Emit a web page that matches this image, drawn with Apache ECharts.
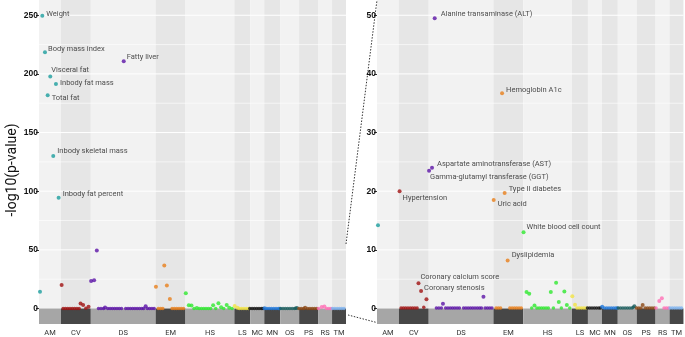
<!DOCTYPE html>
<html>
<head>
<meta charset="utf-8">
<script src="https://cdn.jsdelivr.net/npm/echarts@6/dist/echarts.min.js"></script>
<style>
html, body { margin: 0; padding: 0; background: #fff; }
#chart { width: 685px; height: 337px; }
</style>
</head>
<body>
<div id="chart"></div>
<script>
// trait groups along the x axis (position units)
var groups = ['AM', 'CV', 'DS', 'EM', 'HS', 'LS', 'MC', 'MN', 'OS', 'PS', 'RS', 'TM'];
var groupStart = [0, 22, 52, 117, 147, 196, 212, 226, 242, 261, 280, 294];
var groupEnd = [22, 52, 117, 147, 196, 212, 226, 242, 261, 280, 294, 308];
var groupColors = ['#1c9e9e', '#a01212', '#5b13a6', '#e8801c', '#2ee82e', '#f2e444',
    '#111111', '#1f78dc', '#1b5e5e', '#8b4714', '#ff6fb5', '#80b4f0'];

// [position, -log10(p), name]
var AM = [[1, 14.2], [3.3, 249.5, 'Weight'], [6, 218.4, 'Body mass index'], [8.7, 181.7, 'Total fat'],
    [11.3, 197.7, 'Visceral fat'], [14.3, 130, 'Inbody skeletal mass'], [17, 191.4, 'Inbody fat mass'],
    [19.7, 94.4, 'Inbody fat percent']];
var CV = [[22.7, 20.0, 'Hypertension'], [24.2, 0.1], [26.5, 0.1], [28.8, 0.1], [31.1, 0.1], [33.4, 0.1],
    [35.7, 0.1], [38, 0.1], [40.3, 0.1], [41.7, 4.3, 'Coronary calcium score'], [44.3, 3.0, 'Coronary stenosis'],
    [47, 0.2], [49.7, 1.6]];
var DS = [[52.3, 23.5, 'Gamma-glutamyl transferase (GGT)'], [55.3, 24.0, 'Aspartate aminotransferase (AST)'],
    [58, 49.5, 'Alanine transaminase (ALT)'], [59.7, 0.1], [62.2, 0.1], [64.7, 0.1], [66.3, 0.8], [69, 0.1],
    [71.3, 0.1], [73.6, 0.1], [75.9, 0.1], [78.2, 0.1], [80.5, 0.1], [82.8, 0.1], [85, 210.8, 'Fatty liver'],
    [87, 0.1], [89.3, 0.1], [91.6, 0.1], [93.9, 0.1], [96.2, 0.1], [98.5, 0.1], [100.8, 0.1], [103.1, 0.1],
    [105, 0.1], [107, 2.0], [108.7, 0.1], [111, 0.1], [113.3, 0.1], [115.5, 0.1]];
var EM = [[117.3, 18.5, 'Uric acid'], [119.7, 0.1], [122, 0.1], [124.2, 0.1], [125.7, 36.7, 'Hemoglobin A1c'],
    [128.3, 19.7, 'Type II diabetes'], [131.3, 8.2, 'Dyslipidemia'], [133.5, 0.1], [135.8, 0.1], [138.1, 0.1],
    [140.4, 0.1], [142.7, 0.1], [145, 0.1]];
var HS = [[147.3, 13.0, 'White blood cell count'], [150.3, 2.8], [153, 2.5], [155.5, 0.1], [158.3, 0.5],
    [160.7, 0.1], [163, 0.1], [165.3, 0.1], [167.6, 0.1], [169.9, 0.1], [172.2, 0.1], [174.7, 2.8], [177.3, 0.1],
    [180, 4.4], [182.7, 1.1], [185.3, 0.1], [188.3, 2.9], [190.8, 0.6], [193.7, 0.1]];
var LS = [[196.3, 2.1], [199, 0.65], [201, 0.1], [203.3, 0.1], [205.6, 0.1], [207.9, 0.1], [210.2, 0.1]];
var MC = [[211.5, 0.1], [213.8, 0.1], [216.1, 0.1], [218.4, 0.1], [220.7, 0.1], [223, 0.1], [224.7, 0.1]];
var MN = [[226.3, 0.3], [228.6, 0.1], [230.9, 0.1], [233.2, 0.1], [235.5, 0.1], [237.8, 0.1], [240.1, 0.1],
    [241.5, 0.1]];
var OS = [[242.5, 0.1], [244.8, 0.1], [247.1, 0.1], [249.4, 0.1], [251.7, 0.1], [254, 0.1], [256.3, 0.1],
    [257.5, 0.2], [258.7, 0.4]];
var PS = [[260.8, 0.1], [263.1, 0.1], [265.4, 0.1], [267, 0.6], [269.5, 0.1], [271.8, 0.1], [274.1, 0.1],
    [276.4, 0.1], [278.7, 0.1]];
var RS = [[280.5, 0.1], [283.7, 1.3], [286.3, 1.75], [288.5, 0.1], [290.8, 0.1], [293, 0.1]];
var TM = [[294.5, 0.1], [296.8, 0.1], [299.1, 0.1], [301.4, 0.1], [303.7, 0.1], [306, 0.1]];

var leftTicks = [0, 50, 100, 150, 200, 250];
var rightTicks = [0, 10, 20, 30, 40, 50];
var leftLines = [25, 50, 75, 100, 125, 150, 175, 200, 225, 250];
var rightLines = [5, 10, 15, 20, 25, 30, 35, 40, 45, 50];

var groupPoints = [AM, CV, DS, EM, HS, LS, MC, MN, OS, PS, RS, TM];

// label nudges in pixels
var labelOffset = {
    'Weight': [0, -2], 'Body mass index': [-1, -3], 'Visceral fat': [-3, -6], 'Inbody fat mass': [0, -1],
    'Total fat': [0, 3], 'Inbody skeletal mass': [0, -5], 'Inbody fat percent': [0, -4], 'Fatty liver': [-1, -4],
    'Alanine transaminase (ALT)': [2, -4], 'Hemoglobin A1c': [0, -3], 'Aspartate aminotransferase (AST)': [1, -4],
    'Gamma-glutamyl transferase (GGT)': [-3, 6], 'Type II diabetes': [0, -4], 'Hypertension': [-1, 7],
    'Uric acid': [0, 4], 'White blood cell count': [-1, -5], 'Dyslipidemia': [0, -5],
    'Coronary calcium score': [-2, -6], 'Coronary stenosis': [-1, -3]
};

var panels = [
    { left: 39, width: 307, min: -13.2, max: 263, ticks: leftTicks, lines: leftLines, name: '-log10(p-value)' },
    { left: 377, width: 308, min: -2.64, max: 52.6, ticks: rightTicks, lines: rightLines, name: '' }
];
var cut = panels[1].max;

var centers = groups.map(function (g, i) { return (groupStart[i] + groupEnd[i]) / 2; });
var bandData = groups.map(function (g, i) { return [groupStart[i], groupEnd[i], i]; });

var chart = echarts.init(document.getElementById('chart'));

var grids = [], xAxes = [], yAxes = [], series = [];
panels.forEach(function (p, pi) {
    grids.push({ left: p.left, width: p.width, top: 0, bottom: 13 });
    xAxes.push({
        type: 'value', gridIndex: pi, min: 0, max: 308,
        axisLine: { show: false }, axisTick: { show: false }, splitLine: { show: false },
        axisLabel: {
            customValues: centers, margin: 5, fontSize: 7.5, color: '#333', fontFamily: 'Roboto',
            formatter: function (v) { return groups[centers.indexOf(v)]; }
        }
    });
    yAxes.push({
        type: 'value', gridIndex: pi, min: p.min, max: p.max, z: 1,
        name: p.name, nameLocation: 'middle', nameGap: 19,
        nameTextStyle: { fontSize: 14, color: '#111', fontFamily: 'Roboto', padding: [0, 16, 0, 0] },
        axisLine: { show: false },
        splitLine: { show: false },
        axisTick: { show: true, customValues: p.ticks, length: 3, lineStyle: { color: '#333' } },
        axisLabel: {
            customValues: p.ticks, margin: 1, fontSize: 8.5, fontWeight: 'bold', color: '#111',
            fontFamily: 'Liberation Sans'
        }
    });

    series.push({
        type: 'custom', xAxisIndex: pi, yAxisIndex: pi, z: 0, silent: true,
        data: bandData, encode: { x: [0, 1] },
        renderItem: function (params, api) {
            var i = api.value(2);
            var a = api.coord([api.value(0), p.max]);
            var b = api.coord([api.value(1), 0]);
            var c = api.coord([api.value(1), p.min]);
            return {
                type: 'group', children: [
                    { type: 'rect', shape: { x: a[0], y: a[1], width: b[0] - a[0], height: b[1] - a[1] },
                      style: { fill: i % 2 ? '#e6e6e6' : '#f2f2f2' } },
                    { type: 'rect', shape: { x: a[0], y: b[1], width: b[0] - a[0], height: c[1] - b[1] },
                      style: { fill: i % 2 ? '#474747' : '#a6a6a6' } }
                ]
            };
        }
    });

    series.push({
        type: 'custom', xAxisIndex: pi, yAxisIndex: pi, z: 1, silent: true,
        data: p.lines.map(function (v) { return [0, v]; }),
        renderItem: function (params, api) {
            var v = api.value(1);
            var s = api.coord([0, v]);
            var e = api.coord([308, v]);
            var major = p.ticks.indexOf(v) >= 0;
            return {
                type: 'line', shape: { x1: s[0], y1: s[1], x2: e[0], y2: e[1] },
                style: { stroke: '#ffffff', lineWidth: major ? 1 : 0.6 }
            };
        }
    });

    var items = [];
    groupPoints.forEach(function (pts, gi) {
        pts.forEach(function (pt) {
            if (pi === 1 && pt[1] > cut) return;
            var show = !!pt[2] && (pi === 0 ? pt[1] > cut : pt[1] <= cut);
            items.push({
                value: [pt[0], pt[1]],
                symbolSize: pt[1] < 0.3 ? 3.5 : 4,
                itemStyle: { color: groupColors[gi] },
                label: show ? {
                    show: true, formatter: pt[2], position: 'right', distance: 2,
                    offset: labelOffset[pt[2]], fontSize: 7.5, color: '#222', fontFamily: 'Roboto'
                } : { show: false }
            });
        });
    });
    series.push({
        type: 'scatter', xAxisIndex: pi, yAxisIndex: pi, z: 3, clip: false,
        data: items, animation: false
    });
});

chart.setOption({
    animation: false,
    grid: grids,
    xAxis: xAxes,
    yAxis: yAxes,
    series: series
});

// dotted zoom connectors between the two panels
var t0 = chart.convertToPixel({ gridIndex: 0 }, [308, 55]);
var t1 = chart.convertToPixel({ gridIndex: 1 }, [0, cut]);
var b0 = chart.convertToPixel({ gridIndex: 0 }, [308, -5.5]);
var b1 = chart.convertToPixel({ gridIndex: 1 }, [0, -2.4]);
chart.setOption({
    graphic: [
        { type: 'line', shape: { x1: t0[0], y1: t0[1], x2: t1[0], y2: t1[1] },
          style: { stroke: '#333', lineWidth: 1, lineDash: [1.5, 1.5] } },
        { type: 'line', shape: { x1: b0[0] + 2, y1: b0[1], x2: b1[0], y2: b1[1] },
          style: { stroke: '#333', lineWidth: 1, lineDash: [1.5, 1.5] } }
    ]
});

window.onresize = function () {
    chart.resize();
};
</script>
</body>
</html>
